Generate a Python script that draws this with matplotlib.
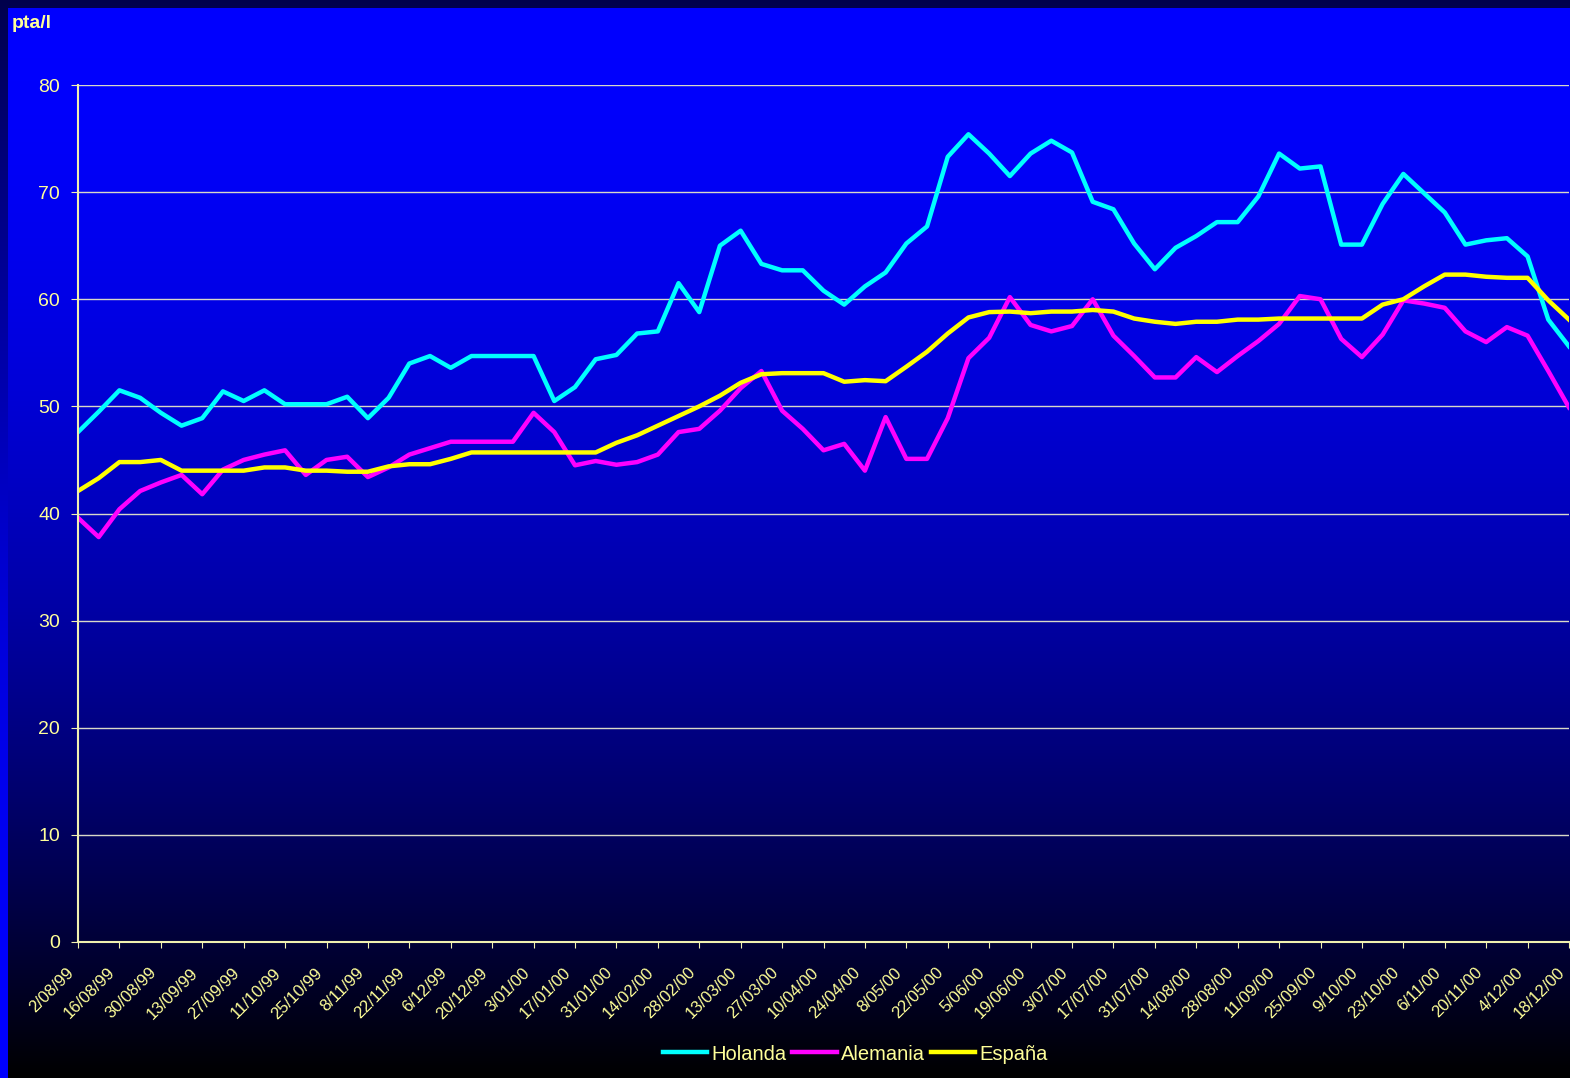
import numpy as np
import matplotlib
matplotlib.use("Agg")
import matplotlib.pyplot as plt
import matplotlib.transforms as mtransforms

# weekly prices (pta/l), 2/08/99 .. 18/12/00
holanda = [47.6, 49.5, 51.5, 50.8, 49.4, 48.2, 48.9, 51.4, 50.5, 51.5,
           50.2, 50.2, 50.2, 50.9, 48.9, 50.8, 54.0, 54.7, 53.6, 54.7,
           54.7, 54.7, 54.7, 50.5, 51.8, 54.4, 54.8, 56.8, 57.0, 61.5,
           58.8, 65.0, 66.4, 63.3, 62.7, 62.7, 60.8, 59.5, 61.2, 62.5,
           65.2, 66.8, 73.3, 75.4, 73.6, 71.5, 73.6, 74.8, 73.7, 69.1,
           68.4, 65.2, 62.8, 64.8, 65.9, 67.2, 67.2, 69.6, 73.6, 72.2,
           72.4, 65.1, 65.1, 68.9, 71.7, 69.9, 68.1, 65.1, 65.5, 65.7,
           64.0, 58.1, 55.6]
alemania = [39.6, 37.8, 40.4, 42.1, 42.9, 43.6, 41.8, 44.1, 45.0, 45.5,
            45.9, 43.6, 45.0, 45.3, 43.4, 44.3, 45.5, 46.1, 46.7, 46.7,
            46.7, 46.7, 49.4, 47.6, 44.5, 44.9, 44.55, 44.8, 45.5, 47.6,
            47.9, 49.6, 51.7, 53.3, 49.6, 47.9, 45.9, 46.5, 44.0, 49.0,
            45.1, 45.1, 48.9, 54.5, 56.4, 60.2, 57.6, 57.0, 57.5, 60.0,
            56.6, 54.7, 52.7, 52.7, 54.6, 53.2, 54.7, 56.1, 57.7, 60.3,
            60.0, 56.3, 54.6, 56.7, 59.9, 59.6, 59.2, 57.0, 56.0, 57.4,
            56.6, 53.3, 49.9]
espana = [42.1, 43.3, 44.8, 44.8, 45.0, 44.0, 44.0, 44.0, 44.0, 44.3,
          44.3, 44.0, 44.0, 43.9, 43.9, 44.4, 44.6, 44.6, 45.1, 45.7,
          45.7, 45.7, 45.7, 45.7, 45.7, 45.7, 46.6, 47.3, 48.2, 49.1,
          50.0, 51.0, 52.2, 53.0, 53.1, 53.1, 53.1, 52.3, 52.45, 52.35,
          53.7, 55.1, 56.8, 58.3, 58.8, 58.85, 58.7, 58.85, 58.85, 59.0,
          58.85, 58.2, 57.9, 57.7, 57.9, 57.9, 58.1, 58.1, 58.2, 58.2,
          58.2, 58.2, 58.2, 59.5, 60.0, 61.2, 62.3, 62.3, 62.1, 62.0,
          62.0, 59.9, 58.1]

date_labels = ["2/08/99", "16/08/99", "30/08/99", "13/09/99", "27/09/99",
               "11/10/99", "25/10/99", "8/11/99", "22/11/99", "6/12/99",
               "20/12/99", "3/01/00", "17/01/00", "31/01/00", "14/02/00",
               "28/02/00", "13/03/00", "27/03/00", "10/04/00", "24/04/00",
               "8/05/00", "22/05/00", "5/06/00", "19/06/00", "3/07/00",
               "17/07/00", "31/07/00", "14/08/00", "28/08/00", "11/09/00",
               "25/09/00", "9/10/00", "23/10/00", "6/11/00", "20/11/00",
               "4/12/00", "18/12/00"]

series = [("Holanda", holanda, "#00FFFF"),
          ("Alemania", alemania, "#FF00FF"),
          ("España", espana, "#FFFF00")]

txt = "#FFFF99"
plt.rcParams['font.family'] = ['Liberation Sans', 'DejaVu Sans']

W, H = 1570, 1078
fig = plt.figure(figsize=(W / 100, H / 100), dpi=100)

# slide background: outer gradient (dark top -> blue bottom),
# inner panel (blue top -> black bottom)
t = np.linspace(0, 1, 512).reshape(-1, 1)  # 0 at top
z = np.zeros_like(t)
bg = fig.add_axes([0, 0, 1, 1], zorder=-3)
outer_b = 0.3 + 0.7 * (1 - (1 - t) ** 1.8)
bg.imshow(np.dstack([z, z, outer_b]), aspect="auto", extent=[0, 1, 0, 1],
          origin="upper")
bg.axis("off")

inner_ax = fig.add_axes([8 / W, 0, 1 - 8 / W, 1 - 8 / H], zorder=-2)
inner_b = 1 - t ** 1.8
inner_ax.imshow(np.dstack([z, z, inner_b]), aspect="auto",
                extent=[0, 1, 0, 1], origin="upper")
inner_ax.axis("off")

ax = fig.add_axes([78 / W, 1 - 942 / H, (1569 - 78) / W, (942 - 85) / H])
ax.set_facecolor("none")

x = np.arange(len(holanda))
for name, vals, col in series:
    ax.plot(x, vals, color=col, lw=3.2, label=name)

ax.set_xlim(0, len(holanda) - 1)
ax.set_ylim(0, 80)
ax.set_yticks(range(0, 81, 10))
ax.yaxis.grid(True, color="#D8D8C8", lw=1)
ax.set_axisbelow(True)

# date labels every two weeks, rotated like the Excel axis
ax.set_xticks(x[::2])
ax.set_xticklabels([])
lab_tr = mtransforms.blended_transform_factory(ax.transData, ax.transAxes) + \
    mtransforms.ScaledTranslation(-12 / 100, -23 / 100, fig.dpi_scale_trans)
for xi, lab in zip(x[::2], date_labels):
    ax.text(xi, 0, lab, transform=lab_tr, rotation=45, ha="right", va="top",
            rotation_mode="anchor", fontsize=12, color=txt, clip_on=False)

for s in ["top", "right"]:
    ax.spines[s].set_visible(False)
for s in ["left", "bottom"]:
    ax.spines[s].set_color("#F0F0B0")
    ax.spines[s].set_linewidth(1.5)

ax.tick_params(axis="y", colors="#F0F0B0", labelcolor=txt, labelsize=14,
               length=5, pad=8)
ax.tick_params(axis="x", colors="#F0F0B0", length=4)

fig.text(12 / W, 1 - 24 / H, "pta/l", color=txt, fontsize=14,
         fontweight="bold", va="center", ha="left")

leg = fig.legend(loc="center", bbox_to_anchor=(855 / W, 1 - 1054 / H), ncol=3,
                 frameon=False, fontsize=14.5, handlelength=2.2,
                 handletextpad=0.2, columnspacing=0.3, labelcolor=txt)

fig.savefig("out.png", dpi=100)
